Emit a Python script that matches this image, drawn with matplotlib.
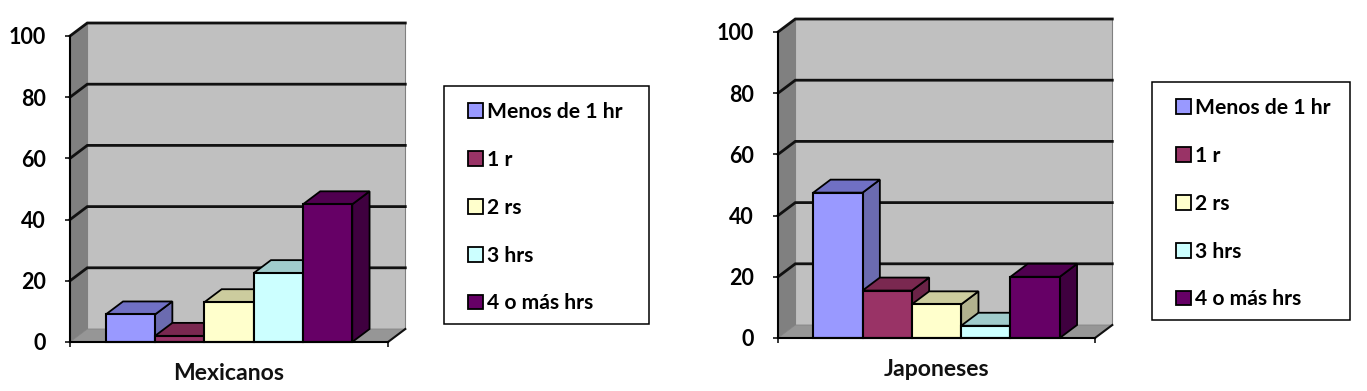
import matplotlib
matplotlib.use("Agg")
import matplotlib.pyplot as plt
from matplotlib.patches import Polygon, Patch, Rectangle

plt.rcParams['font.family'] = ['Lato', 'DejaVu Sans']
plt.rcParams['font.weight'] = 'bold'

W, H = 1367, 391
series_labels = ["Menos de 1 hr", "1 r", "2 rs", "3 hrs", "4 o más hrs"]
mexicanos = [9, 2, 13, 22.5, 45]
japoneses = [47.5, 15.5, 11, 4, 20]
yticks = [0, 20, 40, 60, 80, 100]
front = ["#9999FF", "#993366", "#FFFFCC", "#CCFFFF", "#660066"]
top = ["#7070C4", "#7A2850", "#CCCC9E", "#A0CCCC", "#500050"]
side = ["#6B6BB0", "#6B2347", "#B2B28E", "#8FB2B2", "#3F003F"]

def draw(box, values, title, legend_box):
    x0, x1, ytop, ybot = box
    ax = fig.add_axes([x0 / W, 1 - ybot / H, (x1 - x0) / W, (ybot - ytop) / H])
    ax.set_facecolor('none')
    bw = 49.3                      # pixels per bar
    margin = ((x1 - x0) - 5 * bw) / 2
    xmin, xmax = -0.5 - margin / bw, 4.5 + margin / bw
    ax.set_xlim(xmin, xmax)
    ax.set_ylim(0, 100)
    dx = 17.3 / bw
    dy = 13 / ((ybot - ytop) / 100)
    ln = 2.0
    # walls
    ax.add_patch(Polygon([(xmin + dx, dy), (xmax + dx, dy), (xmax + dx, 100 + dy), (xmin + dx, 100 + dy)],
                         fc="#C0C0C0", ec="#808080", lw=0.8, clip_on=False, zorder=1))
    ax.add_patch(Polygon([(xmin, 0), (xmin + dx, dy), (xmin + dx, 100 + dy), (xmin, 100)],
                         fc="#808080", ec="#808080", lw=0.5, clip_on=False, zorder=1))
    ax.add_patch(Polygon([(xmin, 0), (xmax, 0), (xmax + dx, dy), (xmin + dx, dy)],
                         fc="#969696", ec="#808080", lw=0.5, clip_on=False, zorder=1))
    for v in yticks[1:]:
        ax.plot([xmin, xmin + dx, xmax + dx], [v, v + dy, v + dy], color="#111111", lw=ln,
                clip_on=False, zorder=2, solid_joinstyle='miter')
    ax.plot([xmax, xmax + dx], [0, dy], color="#111111", lw=1.5, clip_on=False, zorder=2)
    # bars
    z = 3
    for i, v in enumerate(values):
        l, r = i - 0.5, i + 0.5
        ax.add_patch(Polygon([(r, 0), (r + dx, dy), (r + dx, v + dy), (r, v)], fc=side[i], ec="black",
                             lw=1.3, clip_on=False, zorder=z))
        ax.add_patch(Polygon([(l, v), (r, v), (r + dx, v + dy), (l + dx, v + dy)], fc=top[i], ec="black",
                             lw=1.3, clip_on=False, zorder=z))
        ax.bar(i, v, width=1, color=front[i], edgecolor="black", linewidth=1.5, zorder=z + 0.5, clip_on=False)
        z += 1
    # axes
    for s in ('top', 'right'):
        ax.spines[s].set_visible(False)
    for s in ('left', 'bottom'):
        ax.spines[s].set_linewidth(1.5)
        ax.spines[s].set_zorder(20)
    ax.set_xticks([xmin, xmax])
    ax.set_xticklabels([])
    ax.set_yticks(yticks)
    ax.tick_params(axis='both', length=3.8, width=1.1, color="black")
    ax.tick_params(axis='y', pad=13.5, labelsize=15.5)
    ax.set_xlabel(title, fontsize=16.6, fontweight='bold', labelpad=7.5, x=0.5, color="#111111")
    # legend: a box of the measured size, with the entries set inside it
    lx0, ly0, lx1, ly1 = legend_box
    fig.add_artist(Rectangle((lx0 / W, 1 - ly1 / H), (lx1 - lx0) / W, (ly1 - ly0) / H,
                             transform=fig.transFigure, fc="white", ec="black", lw=1.1))
    handles = [Patch(fc=front[i], ec="black", lw=1.3, label=series_labels[i]) for i in range(5)]
    fig.legend(handles=handles, loc='upper left',
               bbox_to_anchor=((lx0 + 24) / W, 1 - (ly0 + 16) / H), bbox_transform=fig.transFigure,
               frameon=False,
               prop={'family': 'Lato', 'weight': 'bold', 'size': 15.2}, handlelength=0.7, handleheight=0.7,
               handletextpad=0.22, labelspacing=1.32, borderpad=0, borderaxespad=0)

fig = plt.figure(figsize=(W / 100, H / 100), dpi=100, facecolor="white")
draw((70, 388, 36, 342), mexicanos, "Mexicanos", (444, 86, 649, 324))
draw((778, 1095, 32, 338), japoneses, "Japoneses", (1152, 82, 1350, 320))
fig.savefig("out.png", dpi=100)
